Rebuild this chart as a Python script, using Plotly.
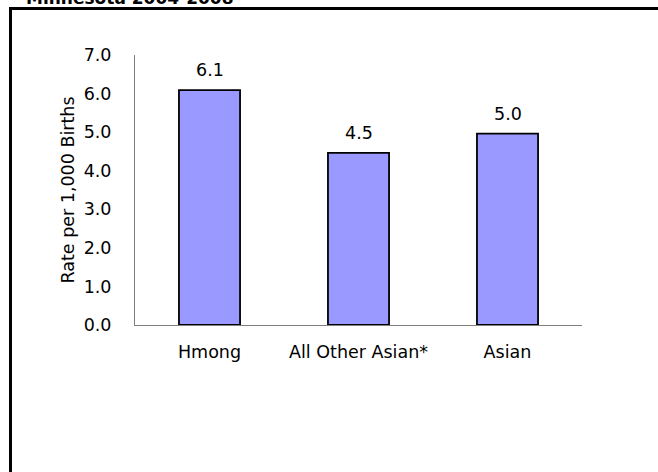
import plotly.graph_objects as go

categories = ["Hmong", "All Other Asian*", "Asian"]
rates = [6.09, 4.46, 4.96]
y_ticks = [0, 1, 2, 3, 4, 5, 6, 7]
y_tick_labels = ["0.0", "1.0", "2.0", "3.0", "4.0", "5.0", "6.0", "7.0"]

FONT = "DejaVu Sans, sans-serif"
FS = 17.5

fig = go.Figure(go.Bar(
    x=categories, y=rates, width=0.41,
    marker=dict(color="#9999FF", line=dict(color="black", width=1.8)),
))

W, H = 658, 472
L, R, T, B = 135, 582, 55, 325
pw, ph = R - L, B - T

def px(x):
    return (x - L) / pw

def py(y):
    return (B - y) / ph

value_labels = [dict(x=c, y=v, text=f"{v:.1f}", showarrow=False, yanchor="bottom",
                     yshift=8, font=dict(size=FS, color="black", family=FONT))
                for c, v in zip(categories, rates)]

fig.update_layout(
    width=W, height=H,
    margin=dict(l=L, r=W - R, t=T, b=H - B, pad=0),
    paper_bgcolor="white", plot_bgcolor="white",
    font=dict(family=FONT, size=FS, color="black"),
    showlegend=False,
    xaxis=dict(showline=True, linecolor="#808080", linewidth=1, ticks="",
               showgrid=False, tickfont=dict(size=FS), ticklabelstandoff=11),
    yaxis=dict(range=[0, 7], tickvals=y_ticks, ticktext=y_tick_labels,
               showline=True, linecolor="#808080", linewidth=1, ticks="",
               showgrid=False, zeroline=False, tickfont=dict(size=FS),
               ticklabelstandoff=19,
               title=dict(text="Rate per 1,000 Births", font=dict(size=FS), standoff=4)),
    shapes=[dict(type="rect", xref="paper", yref="paper",
                 x0=px(10.5), x1=px(700), y0=py(8.5), y1=py(520),
                 line=dict(color="black", width=3), fillcolor="rgba(0,0,0,0)")],
    annotations=value_labels + [
        dict(text="<b>Minnesota 2004-2008</b>", xref="paper", yref="paper",
             x=px(24), y=py(10), xanchor="left", yanchor="bottom",
             showarrow=False, font=dict(size=17, color="black", family=FONT))],
)

fig.write_html("out.html")
